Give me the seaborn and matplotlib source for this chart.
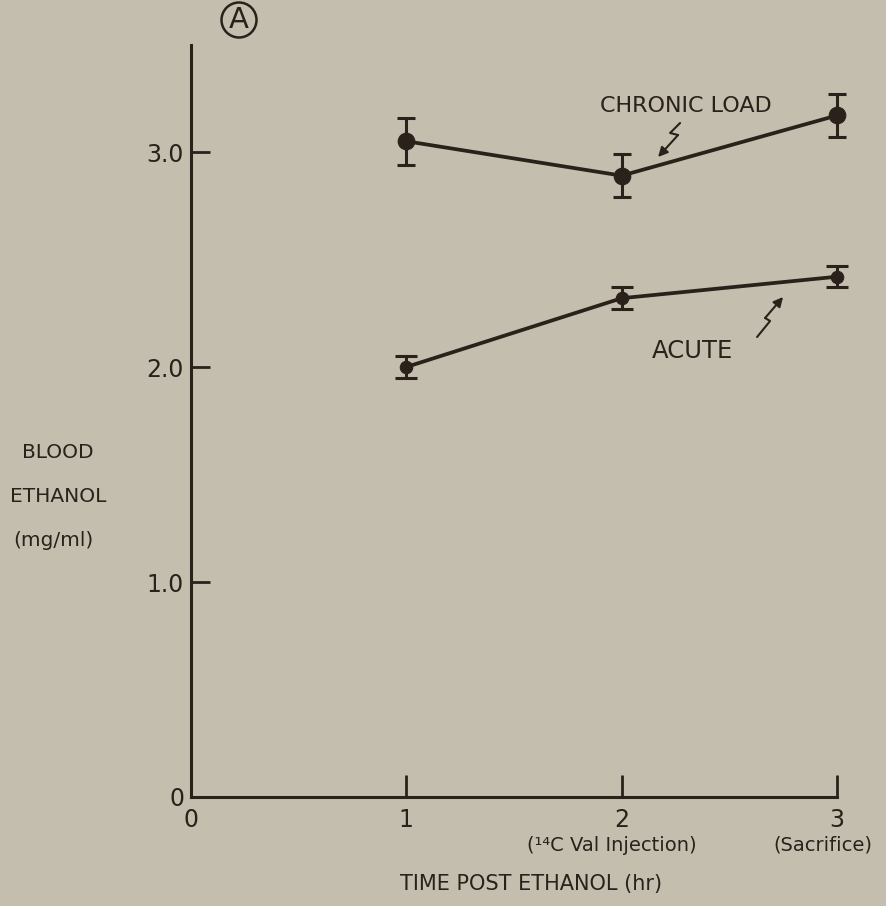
import matplotlib
matplotlib.use("Agg")
import matplotlib.pyplot as plt
import seaborn as sns
import pandas as pd
import numpy as np

# ---- data ----
times = [1, 2, 3]
chronic_mean = [3.05, 2.89, 3.17]
chronic_err = [0.11, 0.10, 0.10]
acute_mean = [2.00, 2.32, 2.42]
acute_err = [0.05, 0.05, 0.05]
x_ticks = [0, 1, 2, 3]
x_ticklabels = ["0", "1", "2", "3"]
y_ticks = [0, 1, 2, 3]
y_ticklabels = ["0", "1.0", "2.0", "3.0"]
x_sublabels = {2: "(¹⁴C Val Injection)", 3: "(Sacrifice)"}

BG = "#c4beaf"
INK = "#2b211b"

sns.set_theme(style="white")
plt.rcParams['font.family'] = ['DejaVu Sans']
plt.rcParams['text.color'] = INK

fig = plt.figure(figsize=(8.86, 9.06), dpi=100, facecolor=BG)
ax = fig.add_axes([191/886, 1-797/906, (837-191)/886, (797-44.5)/906])
ax.set_facecolor(BG)

df = pd.DataFrame({
    "time": times * 2,
    "value": chronic_mean + acute_mean,
    "group": ["CHRONIC LOAD"] * 3 + ["ACUTE"] * 3,
})

sns.lineplot(data=df[df.group == "CHRONIC LOAD"], x="time", y="value", ax=ax,
             color=INK, lw=2.7, marker="o", markersize=12, markeredgecolor=INK,
             legend=False, clip_on=False)
sns.lineplot(data=df[df.group == "ACUTE"], x="time", y="value", ax=ax,
             color=INK, lw=2.7, marker="o", markersize=9, markeredgecolor=INK,
             legend=False, clip_on=False)
ax.errorbar(times, chronic_mean, yerr=chronic_err, fmt="none", ecolor=INK,
            elinewidth=2.2, capsize=6.5, capthick=2.2, clip_on=False)
ax.errorbar(times, acute_mean, yerr=acute_err, fmt="none", ecolor=INK,
            elinewidth=2.2, capsize=8, capthick=2.2, clip_on=False)

ax.set_xlim(0, 3)
ax.set_ylim(0, 3.5)
ax.set_xticks(x_ticks)
ax.set_xticklabels(x_ticklabels, fontsize=17, color=INK)
ax.set_yticks(y_ticks)
ax.set_yticklabels(y_ticklabels, fontsize=17, color=INK)
ax.tick_params(axis="x", bottom=True, direction="in", length=16, width=2, color=INK, pad=8)
ax.tick_params(axis="y", left=True, direction="in", length=14, width=2, color=INK, pad=5)
ax.set_xlabel("")
ax.set_ylabel("")

ax.spines["top"].set_visible(False)
ax.spines["right"].set_visible(False)
for s in ["left", "bottom"]:
    ax.spines[s].set_color(INK)
    ax.spines[s].set_linewidth(2.2)

# sub labels under x ticks
sub_offsets = {2: -0.045, 3: -0.065}
for xv, lab in x_sublabels.items():
    ax.text(xv + sub_offsets[xv], -0.225, lab, ha="center", va="center",
            fontsize=14, color=INK, clip_on=False)

# series labels
ax.text(2.30, 3.215, "CHRONIC LOAD", ha="center", va="center", fontsize=16, color=INK)
ax.text(2.33, 2.075, "ACUTE", ha="center", va="center", fontsize=17.5, color=INK)

def px(xp, yp):
    return ((xp - 191) / 215.3, (797 - yp) / 215.0)

# lightning arrows
def bolt(pts):
    dpts = [px(*p) for p in pts]
    xs, ys = zip(*dpts[:-1])
    ax.plot(xs, ys, color=INK, lw=1.5, clip_on=False)
    ax.annotate("", xy=dpts[-1], xytext=dpts[-2],
                arrowprops=dict(arrowstyle="-|>", color=INK, lw=1.5,
                                mutation_scale=14, shrinkA=0, shrinkB=0))

bolt([(680, 123), (670, 133), (678, 135), (658, 157)])
bolt([(757, 337), (770, 321), (765, 318), (783, 297)])

# axis titles
fig.text(58/886, 1-452/906, "BLOOD", ha="center", va="center", fontsize=14.5, color=INK)
fig.text(58/886, 1-497/906, "ETHANOL", ha="center", va="center", fontsize=14.5, color=INK)
fig.text(53/886, 1-540/906, "(mg/ml)", ha="center", va="center", fontsize=14.5, color=INK)
fig.text(531/886, 1-884/906, "TIME POST ETHANOL (hr)", ha="center", va="center",
         fontsize=15, color=INK)

# circled A
fig.text(239/886, 1-20/906, "A", ha="center", va="center", fontsize=21, color=INK,
         bbox=dict(boxstyle="circle,pad=0.12", fc="none", ec=INK, lw=1.8))

fig.savefig("out.png", dpi=100, facecolor=BG)
